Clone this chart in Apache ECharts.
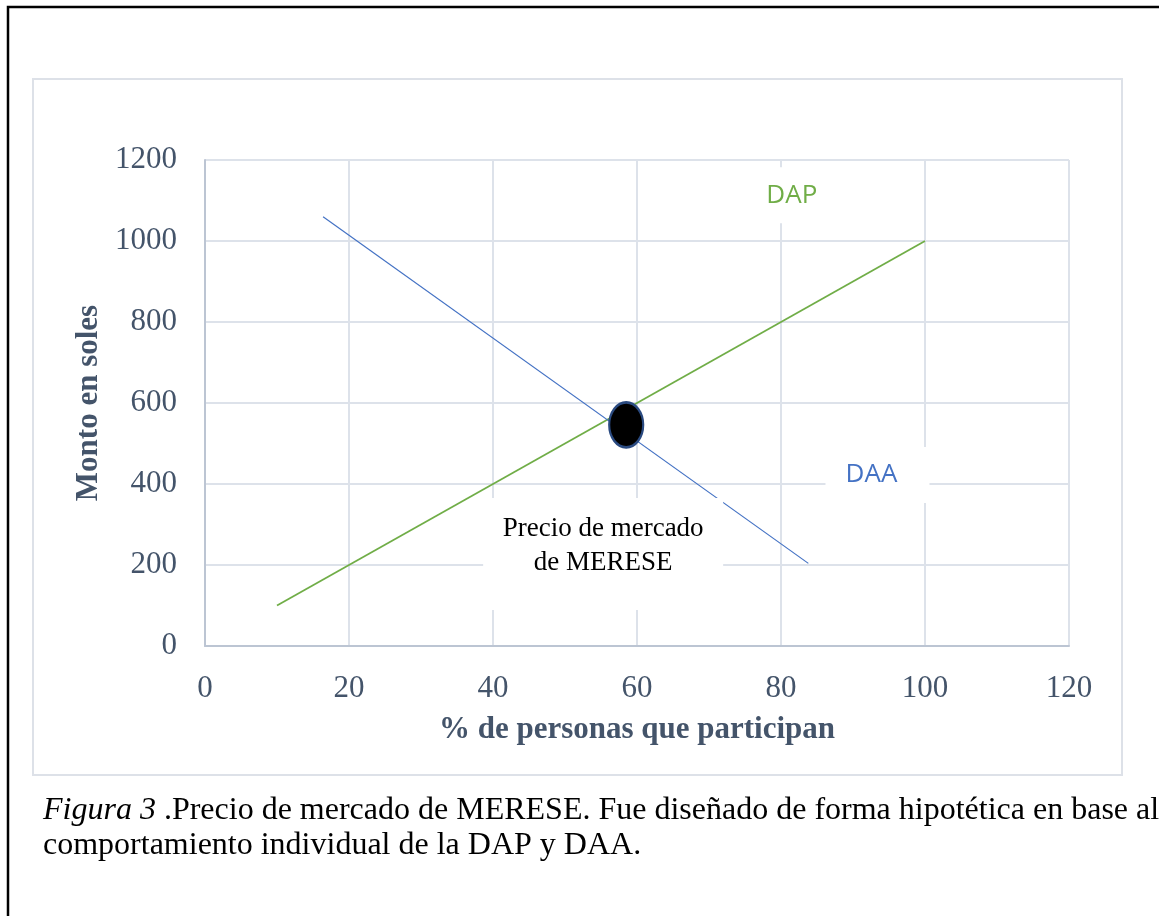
<!DOCTYPE html>
<html>
<head>
<meta charset="utf-8">
<script src="https://cdn.jsdelivr.net/npm/echarts@6/dist/echarts.min.js"></script>
<style>
html,body{margin:0;padding:0;background:#fff;}
#chart{width:1159px;height:916px;}
</style>
</head>
<body>
<div id="chart"></div>
<script>
// Data
const dapLine = [[10, 100], [100, 1000]];          // DAP (green)
const daaLine = [[16.4, 1060], [83.8, 204]];       // DAA (blue)
const equilibrium = [[58.5, 546]];                 // market price point
const xTicks = [0, 20, 40, 60, 80, 100, 120];
const yTicks = [0, 200, 400, 600, 800, 1000, 1200];
const xTitle = '% de personas que participan';
const yTitle = 'Monto en soles';
const labelDAP = 'DAP';
const labelDAA = 'DAA';
const labelPrecio = 'Precio de mercado\nde MERESE';
const captionItalic = 'Figura 3';
const captionRest = ' .Precio de mercado de MERESE. Fue diseñado de forma hipotética en base al';
const captionLine2 = 'comportamiento individual de la DAP y DAA.';

const chart = echarts.init(document.getElementById('chart'), null, {renderer: 'canvas'});
const axisColor = '#44546a';
const gridColor = '#dde2ea';
const serif = '"Liberation Serif", "DejaVu Serif", serif';
const sans = '"Open Sans", "Liberation Sans", sans-serif';

const option = {
  backgroundColor: '#ffffff',
  animation: false,
  grid: {left: 205, right: 90, top: 160, bottom: 270, containLabel: false},
  xAxis: {
    type: 'value', min: xTicks[0], max: xTicks[xTicks.length - 1], interval: 20,
    name: xTitle, nameLocation: 'middle', nameGap: 68,
    nameTextStyle: {fontFamily: serif, fontWeight: 'bold', fontSize: 31, color: axisColor},
    axisLine: {show: true, lineStyle: {color: '#bcc5d3', width: 2}},
    axisTick: {show: false},
    axisLabel: {fontFamily: serif, fontSize: 31, color: axisColor, margin: 27,
      formatter: v => String(v)},
    splitLine: {show: true, lineStyle: {color: gridColor, width: 2}}
  },
  yAxis: {
    type: 'value', min: yTicks[0], max: yTicks[yTicks.length - 1], interval: 200,
    name: yTitle, nameLocation: 'middle', nameGap: 94, nameRotate: 90,
    nameTextStyle: {fontFamily: serif, fontWeight: 'bold', fontSize: 31, color: axisColor},
    axisLine: {show: true, lineStyle: {color: '#bcc5d3', width: 2}},
    axisTick: {show: false},
    axisLabel: {fontFamily: serif, fontSize: 31, color: axisColor, margin: 28,
      formatter: v => String(v)},
    splitLine: {show: true, lineStyle: {color: gridColor, width: 2}}
  },
  series: [
    {
      type: 'line', data: dapLine, symbol: 'none', z: 2,
      lineStyle: {color: '#70ad47', width: 1.8}
    },
    {
      type: 'line', data: daaLine, symbol: 'none', z: 2,
      lineStyle: {color: '#4472c4', width: 1.2}
    },
    {
      type: 'scatter', z: 3, symbolSize: 1, itemStyle: {color: 'rgba(0,0,0,0)', opacity: 1},
      data: [
        {value: [81.5, 1113], label: {show: true, position: 'inside', formatter: labelDAP,
          color: '#70ad47', fontFamily: sans, fontSize: 26,
          backgroundColor: '#fff', width: 90, height: 56, align: 'center', verticalAlign: 'middle', lineHeight: 56}},
        {value: [93.4, 422], label: {show: true, position: 'inside', formatter: labelDAA,
          color: '#4472c4', fontFamily: sans, fontSize: 26, padding: [0, 12, 0, 0],
          backgroundColor: '#fff', width: 92, height: 56, align: 'center', verticalAlign: 'middle', lineHeight: 56}},
        {value: [55.3, 227], label: {show: true, position: 'inside', formatter: ' ',
          backgroundColor: '#fff', width: 240, height: 112, align: 'center', verticalAlign: 'middle'}}
      ]
    },
    {
      type: 'scatter', z: 4, symbolSize: 1, itemStyle: {color: 'rgba(0,0,0,0)', opacity: 1},
      data: [
        {value: [55.3, 247], label: {show: true, position: 'inside', formatter: labelPrecio,
          color: '#000', fontFamily: serif, fontSize: 27, lineHeight: 34,
          align: 'center', verticalAlign: 'middle'}}
      ]
    },
    {
      type: 'scatter', z: 5, data: equilibrium, symbol: 'circle', symbolSize: [34, 45],
      itemStyle: {color: '#000', borderColor: '#2a4a80', borderWidth: 2.5, opacity: 1}
    }
  ],
  graphic: [
    {type: 'rect', z: 0, silent: true, shape: {x: 8, y: 7, width: 1200, height: 1000},
      style: {fill: 'none', stroke: '#000', lineWidth: 2.5}},
    {type: 'rect', z: 0, silent: true, shape: {x: 33, y: 79, width: 1089, height: 696},
      style: {fill: 'none', stroke: '#dde1e8', lineWidth: 2}},
    {type: 'text', left: 43, top: 795, silent: true,
      style: {
        text: '{i|' + captionItalic + '}{n|' + captionRest + '}',
        rich: {
          i: {fontFamily: serif, fontStyle: 'italic', fontSize: 32, fill: '#000'},
          n: {fontFamily: serif, fontSize: 32, fill: '#000'}
        }
      }},
    {type: 'text', left: 43, top: 830, silent: true,
      style: {text: captionLine2, fontFamily: serif, fontSize: 32, fill: '#000'}}
  ]
};
chart.setOption(option);
</script>
</body>
</html>
